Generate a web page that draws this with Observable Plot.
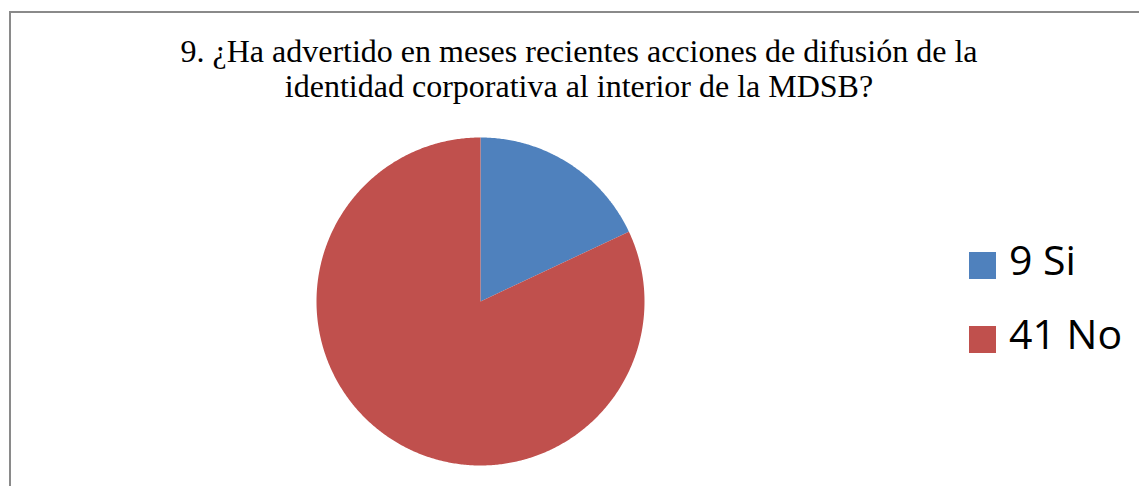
<!DOCTYPE html>
<html>
<head>
<meta charset="utf-8">
<script src="https://cdn.jsdelivr.net/npm/d3@7"></script>
<script src="https://cdn.jsdelivr.net/npm/@observablehq/plot@0.6"></script>
<style>
  html, body { margin: 0; padding: 0; background: #fff; }
  #page { position: relative; width: 1139px; height: 486px; overflow: hidden; }
  #frame { position: absolute; left: 9px; top: 11px; width: 1300px; height: 700px;
           border: 2px solid #8a8a8a; box-sizing: border-box; }
  #title { position: absolute; left: 129px; width: 900px; top: 34px; text-align: center;
           font-family: "Liberation Serif", "Times New Roman", serif; font-size: 32px;
           line-height: 35px; color: #000; white-space: nowrap; }
  #chart { position: absolute; left: 0; top: 0; }
  .leg { position: absolute; left: 969px; font-family: "Open Sans", sans-serif; font-size: 41px;
         color: #000; white-space: nowrap; }
  .sw { position: absolute; left: 0; width: 27px; height: 27px; }
  .lt { position: absolute; left: 40px; }
</style>
</head>
<body>
<div id="page">
  <div id="frame"></div>
  <div id="chart"></div>
  <div id="title">9. ¿Ha advertido en meses recientes acciones de difusión de la<br>identidad corporativa al interior de la MDSB?</div>
  <div id="legend"></div>
</div>
<script>
const categories = ["Si", "No"];
const values = [9, 41];
const colors = ["#4F81BD", "#C0504D"];

const arcs = d3.pie().sort(null)(values);
const rows = [];
arcs.forEach((a, i) => {
  rows.push({cat: categories[i], x: 0, y: 0});
  const n = Math.max(2, Math.ceil((a.endAngle - a.startAngle) / (Math.PI / 360)));
  for (let k = 0; k <= n; k++) {
    const t = a.startAngle + (a.endAngle - a.startAngle) * k / n;
    rows.push({cat: categories[i], x: Math.sin(t), y: Math.cos(t)});
  }
  rows.push({cat: categories[i], x: 0, y: 0});
});

const chart = Plot.plot({
  width: 1139,
  height: 486,
  margin: 0,
  x: {domain: [-1, 1], range: [316, 644], axis: null},
  y: {domain: [-1, 1], range: [465, 137], axis: null},
  color: {domain: categories, range: colors},
  marks: [
    Plot.line(rows, {x: "x", y: "y", z: "cat", fill: "cat", stroke: null, curve: "linear"})
  ]
});
chart.style.background = "transparent";
document.getElementById("chart").appendChild(chart);

const legend = document.getElementById("legend");
const tops = [252, 326];
categories.forEach((c, i) => {
  const row = document.createElement("div");
  row.className = "leg";
  row.style.top = tops[i] + "px";
  const sw = document.createElement("div");
  sw.className = "sw";
  sw.style.background = colors[i];
  const lt = document.createElement("div");
  lt.className = "lt";
  lt.style.top = "-21px";
  lt.textContent = values[i] + " " + c;
  row.appendChild(sw);
  row.appendChild(lt);
  legend.appendChild(row);
});
</script>
</body>
</html>
